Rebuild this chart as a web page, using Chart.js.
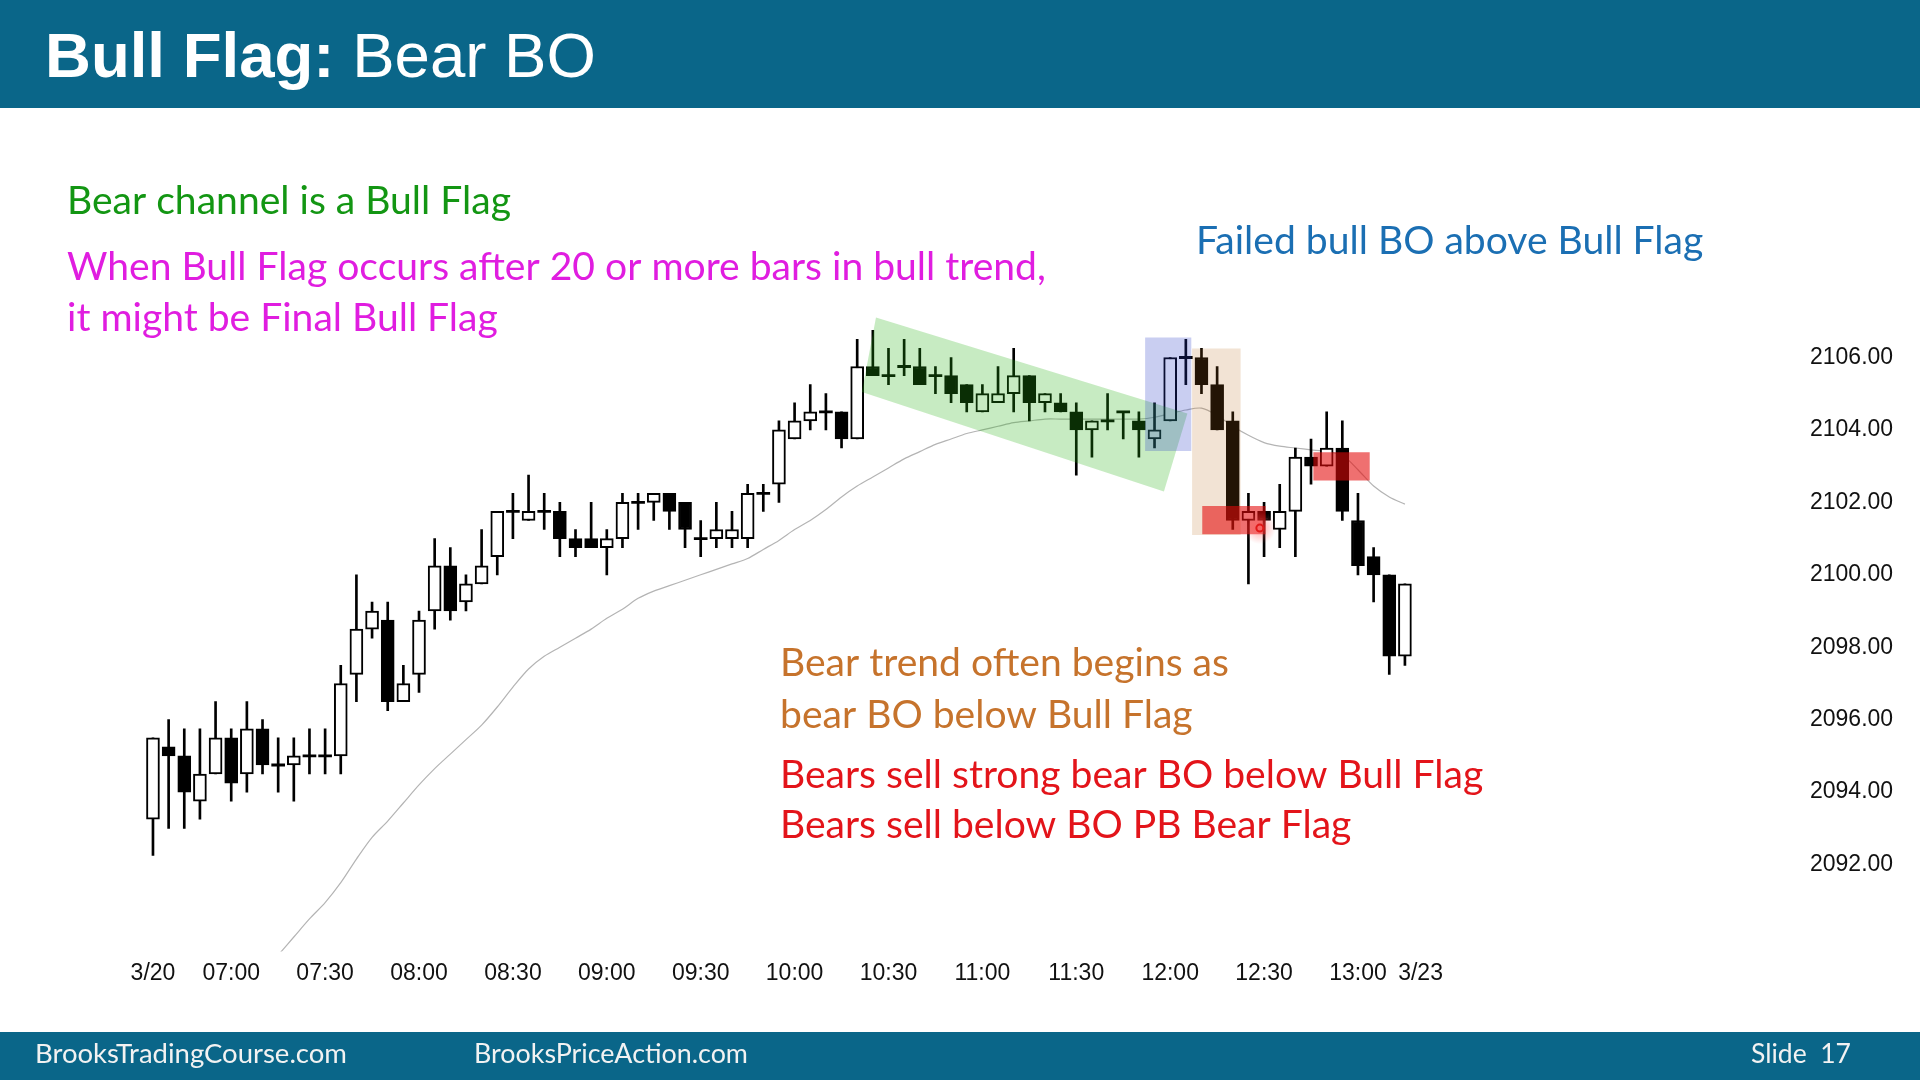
<!DOCTYPE html>
<html>
<head>
<meta charset="utf-8">
<style>
  html, body { margin: 0; padding: 0; background: #fff; }
  #wrap { position: relative; width: 1920px; height: 1080px; overflow: hidden; }
</style>
</head>
<body>
<div id="wrap">
  <canvas id="chart" width="1920" height="1080"></canvas>
</div>

<script src="https://cdn.jsdelivr.net/npm/chart.js"></script>
<script>
// 5 minute bars, 3/20 session (06:35 .. 13:15)
const barTimes = [
  '06:35','06:40','06:45','06:50','06:55','07:00','07:05','07:10','07:15','07:20','07:25','07:30',
  '07:35','07:40','07:45','07:50','07:55','08:00','08:05','08:10','08:15','08:20','08:25','08:30',
  '08:35','08:40','08:45','08:50','08:55','09:00','09:05','09:10','09:15','09:20','09:25','09:30',
  '09:35','09:40','09:45','09:50','09:55','10:00','10:05','10:10','10:15','10:20','10:25','10:30',
  '10:35','10:40','10:45','10:50','10:55','11:00','11:05','11:10','11:15','11:20','11:25','11:30',
  '11:35','11:40','11:45','11:50','11:55','12:00','12:05','12:10','12:15','12:20','12:25','12:30',
  '12:35','12:40','12:45','12:50','12:55','13:00','13:05','13:10','13:15'
];

const opens = [
  2093.25, 2095.25, 2095.0, 2093.75, 2094.5, 2095.5, 2094.5, 2095.75, 2094.75, 2094.75, 2095.0, 2095.0,
  2095.0, 2097.25, 2098.5, 2098.75, 2096.5, 2097.25, 2099.0, 2100.25, 2099.25, 2099.75, 2100.5, 2101.75,
  2101.5, 2101.75, 2101.75, 2101.0, 2101.0, 2100.75, 2101.0, 2102.0, 2102.0, 2102.25, 2102.0, 2101.0,
  2101.0, 2101.0, 2101.0, 2102.25, 2102.5, 2103.75, 2104.25, 2104.5, 2104.5, 2103.75, 2105.75, 2105.5,
  2105.75, 2105.75, 2105.5, 2105.5, 2105.25, 2104.5, 2104.75, 2105.0, 2105.5, 2104.75, 2104.75, 2104.5,
  2104.0, 2104.25, 2104.5, 2104.25, 2103.75, 2104.25, 2106.0, 2106.0, 2105.25, 2104.25, 2101.5, 2101.75,
  2101.25, 2101.75, 2103.25, 2103.0, 2103.5, 2101.5, 2100.5, 2100.0, 2097.75
];
const highs = [
  2095.5, 2096.0, 2095.75, 2095.75, 2096.5, 2095.75, 2096.5, 2096.0, 2095.5, 2095.5, 2095.75, 2095.75,
  2097.5, 2100.0, 2099.25, 2099.25, 2097.5, 2099.0, 2101.0, 2100.75, 2100.0, 2101.25, 2101.75, 2102.25,
  2102.75, 2102.25, 2102.0, 2101.25, 2102.0, 2101.25, 2102.25, 2102.25, 2102.25, 2102.25, 2102.0, 2101.5,
  2102.0, 2101.75, 2102.5, 2102.5, 2104.25, 2104.75, 2105.25, 2105.0, 2104.5, 2106.5, 2106.75, 2106.25,
  2106.5, 2106.25, 2105.75, 2106.0, 2105.25, 2105.25, 2105.75, 2106.25, 2105.5, 2105.0, 2105.0, 2104.75,
  2104.25, 2105.0, 2104.5, 2104.5, 2104.75, 2106.0, 2106.5, 2106.25, 2105.75, 2104.5, 2102.25, 2102.0,
  2102.5, 2103.5, 2103.75, 2104.5, 2104.25, 2102.25, 2100.75, 2100.0, 2099.75
];
const lows = [
  2092.25, 2093.0, 2093.0, 2093.25, 2094.5, 2093.75, 2094.0, 2094.5, 2094.0, 2093.75, 2094.5, 2094.5,
  2094.5, 2096.5, 2098.25, 2096.25, 2096.5, 2096.75, 2098.5, 2098.75, 2099.0, 2099.75, 2100.0, 2101.0,
  2101.5, 2101.25, 2100.5, 2100.5, 2100.75, 2100.0, 2100.75, 2101.25, 2101.5, 2101.25, 2100.75, 2100.5,
  2100.75, 2100.75, 2100.75, 2101.75, 2102.0, 2103.75, 2104.0, 2104.0, 2103.5, 2103.75, 2105.5, 2105.25,
  2105.5, 2105.25, 2105.0, 2104.75, 2104.5, 2104.5, 2104.75, 2104.5, 2104.25, 2104.5, 2104.5, 2102.75,
  2103.25, 2104.0, 2103.75, 2103.25, 2103.5, 2104.25, 2105.25, 2105.0, 2104.0, 2101.25, 2099.75, 2100.5,
  2100.75, 2100.5, 2102.5, 2103.0, 2101.5, 2100.0, 2099.25, 2097.25, 2097.5
];
const closes = [
  2095.5, 2095.0, 2094.0, 2094.5, 2095.5, 2094.25, 2095.75, 2094.75, 2094.75, 2095.0, 2095.0, 2095.0,
  2097.0, 2098.5, 2099.0, 2096.5, 2097.0, 2098.75, 2100.25, 2099.0, 2099.75, 2100.25, 2101.75, 2101.75,
  2101.75, 2101.75, 2101.0, 2100.75, 2100.75, 2101.0, 2102.0, 2102.0, 2102.25, 2101.75, 2101.25, 2101.0,
  2101.25, 2101.25, 2102.25, 2102.25, 2104.0, 2104.25, 2104.5, 2104.5, 2103.75, 2105.75, 2105.5, 2105.5,
  2105.75, 2105.25, 2105.5, 2105.0, 2104.75, 2105.0, 2105.0, 2105.5, 2104.75, 2105.0, 2104.5, 2104.0,
  2104.25, 2104.25, 2104.5, 2104.0, 2104.0, 2106.0, 2106.0, 2105.25, 2104.0, 2101.5, 2101.75, 2101.5,
  2101.75, 2103.25, 2103.0, 2103.5, 2101.75, 2100.25, 2100.0, 2097.75, 2099.75
];

// 20 bar EMA (starts below the visible range)
const ema20 = [
  null, null, null, null, null, null, null, 2089.0, 2089.5, 2090.0, 2090.5, 2090.95,
  2091.5, 2092.15, 2092.75, 2093.2, 2093.7, 2094.2, 2094.65, 2095.05, 2095.45, 2095.85, 2096.35, 2096.9,
  2097.4, 2097.75, 2098.0, 2098.25, 2098.5, 2098.8, 2099.05, 2099.35, 2099.55, 2099.7, 2099.85, 2100.0,
  2100.15, 2100.3, 2100.45, 2100.7, 2100.95, 2101.25, 2101.5, 2101.8, 2102.15, 2102.45, 2102.7, 2102.95,
  2103.2, 2103.4, 2103.6, 2103.75, 2103.9, 2104.0, 2104.1, 2104.2, 2104.25, 2104.3, 2104.3, 2104.3,
  2104.3, 2104.3, 2104.3, 2104.3, 2104.35, 2104.45, 2104.55, 2104.6, 2104.4, 2104.1, 2103.85, 2103.65,
  2103.55, 2103.5, 2103.45, 2103.4, 2103.3, 2102.9, 2102.45, 2102.15, 2101.95
];

// axis labels
const tickBars = [0, 5, 11, 17, 23, 29, 35, 41, 47, 53, 59, 65, 71, 77, 81];
const tickLabels = ['3/20', '07:00', '07:30', '08:00', '08:30', '09:00', '09:30', '10:00',
  '10:30', '11:00', '11:30', '12:00', '12:30', '13:00', '3/23'];
const yTicks = [2092, 2094, 2096, 2098, 2100, 2102, 2104, 2106];

// highlighted zones, in bar index / price units
const flagChannel = [[46.2, 2107.1], [66.1, 2104.45], [64.6, 2102.3], [45.3, 2105.05]];
const failedBoBox = [63.4, 66.35, 2103.42, 2106.55];
const bearBoBox = [66.4, 69.5, 2101.1, 2106.25];
const sellBox1 = [67.05, 71.1, 2101.12, 2101.9];
const sellBox2 = [74.15, 77.75, 2102.6, 2103.38];
const cursorAt = [70.73, 2101.29];

// text on the slide
const notes = [
  { text: 'Bear channel is a Bull Flag', color: '#139613', x: 67, y: 214, w: 446 },
  { text: 'When Bull Flag occurs after 20 or more bars in bull trend,', color: '#e01de0', x: 67, y: 280, w: 988 },
  { text: 'it might be Final Bull Flag', color: '#e01de0', x: 67, y: 331, w: 432 },
  { text: 'Failed bull BO above Bull Flag', color: '#1b6fb3', x: 1196, y: 254, w: 505 },
  { text: 'Bear trend often begins as', color: '#c6732c', x: 780, y: 676, w: 454 },
  { text: 'bear BO below Bull Flag', color: '#c6732c', x: 780, y: 728, w: 409 },
  { text: 'Bears sell strong bear BO below Bull Flag', color: '#e3141a', x: 780, y: 788, w: 702 },
  { text: 'Bears sell below BO PB Bear Flag', color: '#e3141a', x: 780, y: 838, w: 563 }
];

const wickData = barTimes.map((t, i) => ({ x: i, y: [lows[i], highs[i]] }));
const bodyData = barTimes.map((t, i) => {
  const o = opens[i], c = closes[i];
  if (o === c) return { x: i, y: [o - 0.03, o + 0.03] };
  return { x: i, y: [Math.min(o, c), Math.max(o, c)] };
});
const bodyFill = barTimes.map((t, i) => closes[i] > opens[i] ? '#ffffff' : '#000000');
const bodyBorder = barTimes.map((t, i) => closes[i] === opens[i] ? 0 : 2);
const emaData = ema20.map((v, i) => ({ x: i, y: v }));

const NOTE_FONT = '"Lato", "Open Sans", sans-serif';

const slidePlugin = {
  id: 'slide',
  beforeDraw(chart) {
    const ctx = chart.ctx;
    ctx.save();
    ctx.fillStyle = '#ffffff';
    ctx.fillRect(0, 0, chart.width, chart.height);
    ctx.restore();
  },
  afterDatasetsDraw(chart) {
    const ctx = chart.ctx;
    const xs = chart.scales.x, ys = chart.scales.y;
    const px = v => xs.getPixelForValue(v);
    const py = v => ys.getPixelForValue(v);
    const poly = (pts, color) => {
      ctx.beginPath();
      pts.forEach((p, k) => k ? ctx.lineTo(px(p[0]), py(p[1])) : ctx.moveTo(px(p[0]), py(p[1])));
      ctx.closePath();
      ctx.fillStyle = color;
      ctx.fill();
    };
    const box = (b, color) => poly([[b[0], b[3]], [b[1], b[3]], [b[1], b[2]], [b[0], b[2]]], color);

    ctx.save();
    poly(flagChannel, 'rgba(40,176,20,0.26)');
    box(failedBoBox, 'rgba(40,60,200,0.25)');
    box(bearBoBox, 'rgba(184,105,29,0.19)');
    box(sellBox1, 'rgba(228,8,8,0.58)');
    box(sellBox2, 'rgba(228,8,8,0.58)');

    // cursor ring
    const cx = px(cursorAt[0]), cy = py(cursorAt[1]);
    const g = ctx.createRadialGradient(cx, cy, 2, cx, cy, 16);
    g.addColorStop(0, 'rgba(255,90,90,0.45)');
    g.addColorStop(1, 'rgba(255,90,90,0)');
    ctx.fillStyle = g;
    ctx.beginPath(); ctx.arc(cx, cy, 16, 0, Math.PI * 2); ctx.fill();
    ctx.strokeStyle = '#e01818';
    ctx.lineWidth = 2;
    ctx.beginPath(); ctx.arc(cx, cy, 3.5, 0, Math.PI * 2); ctx.stroke();
    ctx.restore();
  },
  afterDraw(chart) {
    const ctx = chart.ctx;
    ctx.save();
    // header and footer bars
    ctx.fillStyle = '#0a6689';
    ctx.fillRect(0, 0, 1920, 108);
    ctx.fillRect(0, 1032, 1920, 48);

    // title
    const boldPart = 'Bull Flag:', regPart = ' Bear BO';
    ctx.font = 'bold 100px "Liberation Sans", Arial, sans-serif';
    const wb = ctx.measureText(boldPart).width;
    ctx.font = '100px "Liberation Sans", Arial, sans-serif';
    const wr = ctx.measureText(regPart).width;
    const ts = 100 * 551 / (wb + wr);
    ctx.fillStyle = '#ffffff';
    ctx.textBaseline = 'alphabetic';
    ctx.font = 'bold ' + ts + 'px "Liberation Sans", Arial, sans-serif';
    ctx.fillText(boldPart, 45, 77);
    ctx.font = ts + 'px "Liberation Sans", Arial, sans-serif';
    ctx.fillText(regPart, 45 + wb * ts / 100, 77);

    // footer
    const foot = [['BrooksTradingCourse.com', 35, 312], ['BrooksPriceAction.com', 474, 274], ['Slide  17', 1751, 100]];
    ctx.fillStyle = '#f2f2f2';
    foot.forEach(f => {
      ctx.font = '100px ' + NOTE_FONT;
      const s = 100 * f[2] / ctx.measureText(f[0]).width;
      ctx.font = s + 'px ' + NOTE_FONT;
      ctx.fillText(f[0], f[1], 1063);
    });

    // notes: one common size fitted to the slide's widths
    ctx.font = '100px ' + NOTE_FONT;
    let tw = 0, mw = 0;
    notes.forEach(n => { tw += n.w; mw += ctx.measureText(n.text).width; });
    const ns = 100 * tw / mw;
    ctx.font = ns + 'px ' + NOTE_FONT;
    notes.forEach(n => {
      ctx.fillStyle = n.color;
      ctx.fillText(n.text, n.x, n.y);
    });
    ctx.restore();
  }
};

const tickFont = { family: '"Liberation Sans", Arial, sans-serif', size: 23 };

new Chart(document.getElementById('chart').getContext('2d'), {
  type: 'bar',
  data: {
    datasets: [
      {
        label: 'body',
        data: bodyData,
        backgroundColor: bodyFill,
        borderColor: '#000000',
        borderWidth: bodyBorder,
        borderSkipped: false,
        barThickness: 13,
        grouped: false,
        order: 1
      },
      {
        label: 'wick',
        data: wickData,
        backgroundColor: '#000000',
        borderWidth: 0,
        barThickness: 2,
        grouped: false,
        order: 2
      },
      {
        type: 'line',
        label: 'EMA 20',
        data: emaData,
        borderColor: '#b4b4b4',
        borderWidth: 1.2,
        pointRadius: 0,
        tension: 0.3,
        spanGaps: false,
        order: 3
      }
    ]
  },
  options: {
    responsive: false,
    animation: false,
    devicePixelRatio: 1,
    layout: { padding: { left: 129.5, top: 314, right: 0, bottom: 0 } },
    plugins: { legend: { display: false }, tooltip: { enabled: false } },
    scales: {
      x: {
        type: 'linear',
        min: -1.5,
        max: 104,
        offset: false,
        grid: { display: false, drawTicks: false },
        border: { display: false },
        afterFit(scale) { scale.height = 128.5; },
        afterBuildTicks(scale) { scale.ticks = tickBars.map(v => ({ value: v })); },
        ticks: {
          autoSkip: false,
          maxRotation: 0,
          padding: 8.5,
          color: '#111111',
          font: tickFont,
          callback: v => tickLabels[tickBars.indexOf(v)]
        }
      },
      y: {
        position: 'right',
        min: 2089.6,
        max: 2107.2,
        grid: { display: false, drawTicks: false },
        border: { display: false },
        afterFit(scale) { scale.width = 139.5; },
        afterBuildTicks(scale) { scale.ticks = yTicks.map(v => ({ value: v })); },
        ticks: {
          padding: 29.5,
          color: '#111111',
          font: tickFont,
          callback: v => v.toFixed(2)
        }
      }
    }
  },
  plugins: [slidePlugin]
});
</script>
</body>
</html>
